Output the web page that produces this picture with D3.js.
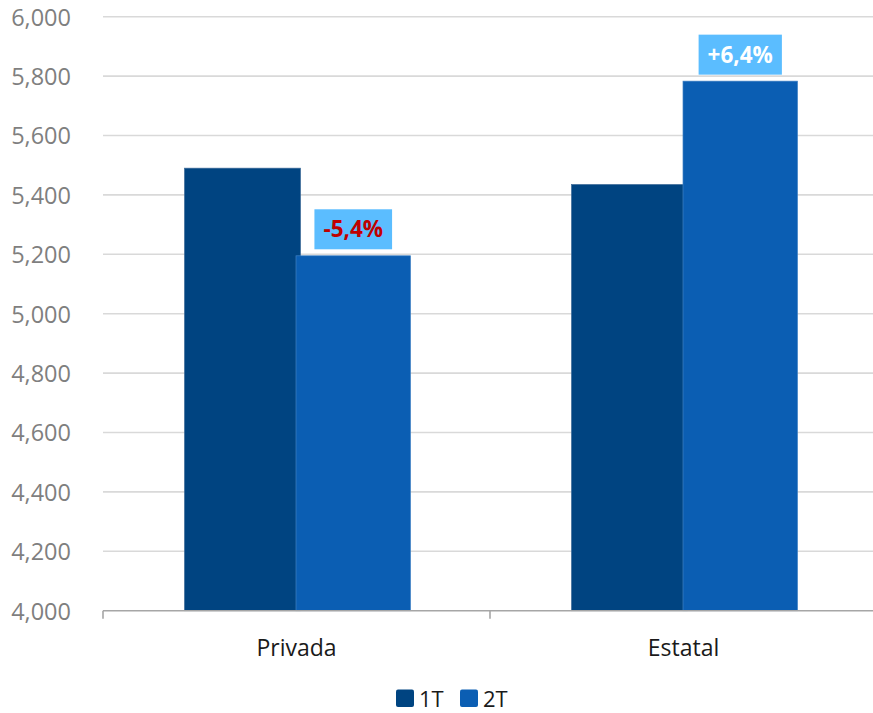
<!DOCTYPE html>
<html>
<head>
<meta charset="utf-8">
<script src="https://cdn.jsdelivr.net/npm/d3@7/dist/d3.min.js"></script>
<style>
  html, body { margin: 0; padding: 0; background: #ffffff; }
  svg { display: block; font-family: "Open Sans", "Liberation Sans", sans-serif; }
</style>
</head>
<body>
<svg id="chart" width="873" height="713"></svg>
<script>
// Categories, series and values
const categories = ["Privada", "Estatal"];
const series = ["1T", "2T"];
const values1T = [5490, 5435];
const values2T = [5195, 5783];
const changeLabels = ["-5,4%", "+6,4%"];
const yTicks = [4000, 4200, 4400, 4600, 4800, 5000, 5200, 5400, 5600, 5800, 6000];

const colors = { "1T": "#004481", "2T": "#0B5EB3" };
const boxColor = "#5BBDFF";

const svg = d3.select("#chart");
const W = 873;

const plot = { left: 103, right: 877, top: 16.7, bottom: 610.7 };

const x0 = d3.scaleBand().domain(categories).range([plot.left, plot.right]).paddingInner(0).paddingOuter(0);
const x1 = d3.scaleBand().domain(series).range([-112, 114]);
const y = d3.scaleLinear().domain([4000, 6000]).range([plot.bottom, plot.top]);

// Horizontal gridlines
svg.append("g")
  .selectAll("line")
  .data(yTicks.filter(t => t > 4000))
  .join("line")
  .attr("x1", plot.left).attr("x2", W)
  .attr("y1", d => y(d)).attr("y2", d => y(d))
  .attr("stroke", "#D9D9D9").attr("stroke-width", 1.6);

// Y axis labels
const yAxis = d3.axisLeft(y).tickValues(yTicks).tickFormat(d3.format(",")).tickSize(0).tickPadding(32);
const gy = svg.append("g").attr("transform", `translate(${plot.left},0)`).call(yAxis);
gy.select(".domain").remove();
gy.selectAll("text")
  .attr("fill", "#7F7F7F")
  .style("font-size", "23.5px")
  .style("font-family", "'Open Sans', sans-serif")
  .attr("dy", "0.36em");

// Bars
const rows = categories.map((c, i) => ({ cat: c, vals: [
  { s: "1T", v: values1T[i] },
  { s: "2T", v: values2T[i] }
], label: changeLabels[i] }));

const groups = svg.append("g").selectAll("g")
  .data(rows).join("g")
  .attr("transform", d => `translate(${x0(d.cat) + x0.bandwidth() / 2},0)`);

groups.selectAll("rect")
  .data(d => d.vals)
  .join("rect")
  .attr("x", d => x1(d.s) - (d.s === "2T" ? 1.5 : 0))
  .attr("width", d => x1.bandwidth() + (d.s === "1T" ? 3 : 1.5))
  .attr("y", d => y(d.v))
  .attr("height", d => y(4000) - y(d.v))
  .attr("fill", d => colors[d.s])
  .attr("stroke", d => d.s === "1T" ? "#3d6a98" : "#3f80c4")
  .attr("stroke-width", 0.7);

// Change labels above the 2T bars
groups.each(function(d) {
  const g = d3.select(this);
  const v = d.vals[1].v;
  const cx = x1("2T") + x1.bandwidth() / 2 - 0.75;
  const bottom = y(v) - 6.5;
  const h = 40;
  const box = g.append("rect").attr("fill", boxColor);
  const t = g.append("text")
    .attr("x", cx)
    .attr("y", bottom - h / 2)
    .attr("dy", "0.36em")
    .attr("text-anchor", "middle")
    .style("font-size", "22.5px")
    .style("font-weight", "bold")
    .attr("fill", d.label.startsWith("-") ? "#C00000" : "#FFFFFF")
    .text(d.label);
  const bw = t.node().getComputedTextLength() + 18;
  box.attr("x", cx - bw / 2).attr("width", bw)
     .attr("y", bottom - h).attr("height", h);
});

// X axis line and ticks
const gx = svg.append("g");
gx.append("line")
  .attr("x1", plot.left).attr("x2", W)
  .attr("y1", plot.bottom).attr("y2", plot.bottom)
  .attr("stroke", "#A6A6A6").attr("stroke-width", 1.6);
const tickXs = categories.map(c => x0(c)).concat([x0(categories[categories.length - 1]) + x0.bandwidth()]);
gx.selectAll("line.tick")
  .data(tickXs).join("line").attr("class", "tick")
  .attr("x1", d => d).attr("x2", d => d)
  .attr("y1", plot.bottom).attr("y2", plot.bottom + 8)
  .attr("stroke", "#A6A6A6").attr("stroke-width", 1.6);

gx.selectAll("text")
  .data(categories).join("text")
  .attr("x", d => x0(d) + x0.bandwidth() / 2)
  .attr("y", 656)
  .attr("text-anchor", "middle")
  .attr("fill", "#1a1a1a")
  .style("font-size", "23px")
  .text(d => d);

// Legend
const legend = svg.append("g");
const legendItems = [{ s: "1T", x: 396 }, { s: "2T", x: 460 }];
legendItems.forEach(it => {
  legend.append("rect")
    .attr("x", it.x).attr("y", 689.5)
    .attr("width", 18).attr("height", 17.5)
    .attr("rx", 2)
    .attr("fill", colors[it.s]);
  legend.append("text")
    .attr("x", it.x + 23).attr("y", 706.5)
    .attr("fill", "#1a1a1a")
    .style("font-size", "22px")
    .text(it.s);
});
</script>
</body>
</html>
